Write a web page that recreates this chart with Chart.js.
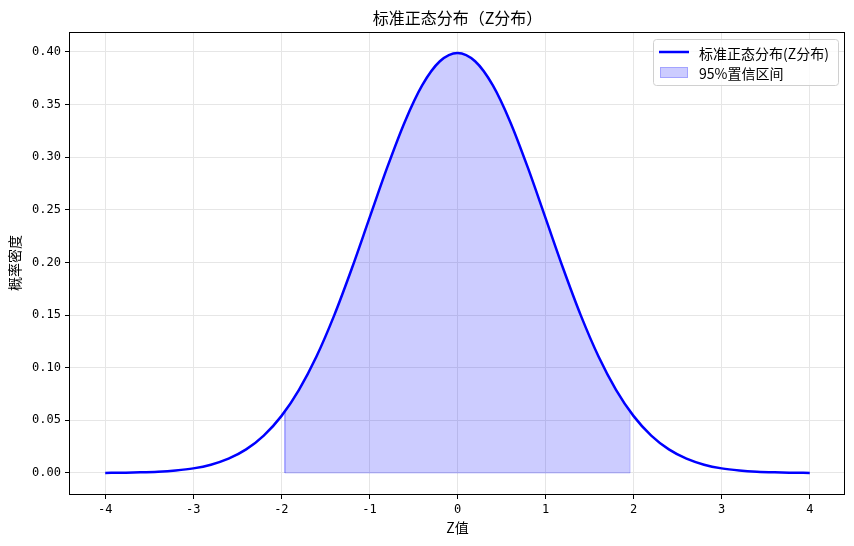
<!DOCTYPE html>
<html>
<head>
<meta charset="utf-8">
<script src="https://cdn.jsdelivr.net/npm/chart.js@4"></script>
<style>
  html, body { margin: 0; padding: 0; background: #fff; }
  #wrap { width: 854px; height: 546px; }
</style>
</head>
<body>
<div id="wrap"><canvas id="myChart" width="854" height="546"></canvas></div>
<script>
// z values and density
const zValues = [-4, -3.8, -3.6, -3.4, -3.2, -3, -2.8, -2.6, -2.4, -2.2, -2, -1.8, -1.6, -1.4, -1.2, -1, -0.8, -0.6, -0.4, -0.2,
  0, 0.2, 0.4, 0.6, 0.8, 1, 1.2, 1.4, 1.6, 1.8, 2, 2.2, 2.4, 2.6, 2.8, 3, 3.2, 3.4, 3.6, 3.8, 4];
const density = [0.0001, 0.0003, 0.0006, 0.0012, 0.0024, 0.0044, 0.0079, 0.0136, 0.0224, 0.0355, 0.0540, 0.0790, 0.1109, 0.1497, 0.1942, 0.2420, 0.2897, 0.3332, 0.3683, 0.3910,
  0.3989, 0.3910, 0.3683, 0.3332, 0.2897, 0.2420, 0.1942, 0.1497, 0.1109, 0.0790, 0.0540, 0.0355, 0.0224, 0.0136, 0.0079, 0.0044, 0.0024, 0.0012, 0.0006, 0.0003, 0.0001];
const ciBounds = [-1.96, 1.96];
const ciEdgeDensity = [0.0584, 0.0584];
const xTicks = [-4, -3, -2, -1, 0, 1, 2, 3, 4];
const yTicks = [0, 0.05, 0.10, 0.15, 0.20, 0.25, 0.30, 0.35, 0.40];
const labels = ['标准正态分布(Z分布)', '95%置信区间'];

const monoFont = "'DejaVu Sans Mono', 'Noto Sans CJK SC', monospace";
const cjkFont = "'Noto Sans CJK SC', 'DejaVu Sans', sans-serif";

let curve = zValues.map((z, i) => ({x: z, y: density[i]}));
let ciArea = [{x: ciBounds[0], y: ciEdgeDensity[0]}]
  .concat(curve.filter(p => p.x > ciBounds[0] && p.x < ciBounds[1]))
  .concat([{x: ciBounds[1], y: ciEdgeDensity[1]}]);
let ciEdges = [
  {x: ciBounds[0], y: ciEdgeDensity[0]}, {x: ciBounds[0], y: 0},
  {x: ciBounds[1], y: 0}, {x: ciBounds[1], y: ciEdgeDensity[1]}
];

const decorations = {
  id: 'decorations',
  afterDraw(chart) {
    const ctx = chart.ctx;
    const a = chart.chartArea;
    ctx.save();
    // spines
    ctx.strokeStyle = '#000';
    ctx.lineWidth = 1;
    ctx.strokeRect(Math.round(a.left) - 0.5, Math.round(a.top) + 0.5, Math.round(a.right - a.left), Math.round(a.bottom - a.top));

    // title and axis labels
    ctx.fillStyle = '#000';
    ctx.textAlign = 'center';
    ctx.textBaseline = 'middle';
    ctx.font = "16px " + cjkFont;
    ctx.fillText('标准正态分布（Z分布）', (a.left + a.right) / 2, 18);
    ctx.font = "14px " + cjkFont;
    ctx.fillText('Z值', (a.left + a.right) / 2, 528);
    ctx.save();
    ctx.translate(15, (a.top + a.bottom) / 2);
    ctx.rotate(-Math.PI / 2);
    ctx.fillText('概率密度', 0, 0);
    ctx.restore();

    // legend, upper right inside the axes
    const bx = 653.5, by = 39.5, bw = 185, bh = 46;
    ctx.fillStyle = 'rgba(255,255,255,0.8)';
    ctx.strokeStyle = '#d0d0d0';
    ctx.beginPath();
    ctx.roundRect(bx, by, bw, bh, 3);
    ctx.fill();
    ctx.stroke();

    ctx.strokeStyle = '#0000ff';
    ctx.lineWidth = 2.5;
    ctx.beginPath();
    ctx.moveTo(659, 52);
    ctx.lineTo(689, 52);
    ctx.stroke();

    ctx.fillStyle = 'rgba(0,0,255,0.2)';
    ctx.fillRect(660, 67, 28, 11);
    ctx.strokeStyle = 'rgba(0,0,255,0.2)';
    ctx.lineWidth = 1;
    ctx.strokeRect(660.5, 67.5, 27, 10);

    ctx.fillStyle = '#000';
    ctx.textAlign = 'left';
    ctx.font = "14px " + cjkFont;
    ctx.fillText(labels[0], 699, 54);
    ctx.fillText(labels[1], 699, 73.5);
    ctx.restore();
  }
};

const myChart = document.getElementById('myChart');
let normalChart = new Chart(myChart, {
  type: 'line',
  data: {
    datasets: [
      {
        label: labels[0],
        data: curve,
        borderColor: '#0000ff',
        borderWidth: 2.5,
        pointRadius: 0,
        fill: false,
        cubicInterpolationMode: 'monotone'
      },
      {
        label: labels[1],
        data: ciArea,
        borderColor: 'rgba(0,0,255,0.2)',
        backgroundColor: 'rgba(0,0,255,0.2)',
        borderWidth: 1,
        pointRadius: 0,
        fill: 'origin',
        cubicInterpolationMode: 'monotone'
      },
      {
        label: 'edges',
        data: ciEdges,
        borderColor: 'rgba(0,0,255,0.2)',
        borderWidth: 1,
        pointRadius: 0,
        fill: false,
        tension: 0
      }
    ]
  },
  options: {
    responsive: false,
    animation: false,
    events: [],
    layout: {padding: {top: 32, right: 9, left: 0, bottom: 0}},
    plugins: {
      legend: {display: false},
      title: {display: false},
      tooltip: {enabled: false}
    },
    scales: {
      x: {
        type: 'linear',
        min: -4.4,
        max: 4.4,
        afterBuildTicks: scale => { scale.ticks = xTicks.map(v => ({value: v})); },
        afterFit: scale => { scale.height = 52; },
        border: {display: false},
        grid: {color: '#e6e6e6', lineWidth: 1, tickColor: '#000', tickLength: 5},
        ticks: {
          color: '#000',
          font: {family: monoFont, size: 12},
          padding: 4,
          maxRotation: 0,
          callback: v => String(v)
        }
      },
      y: {
        type: 'linear',
        min: -0.01995,
        max: 0.4188,
        afterBuildTicks: scale => { scale.ticks = yTicks.map(v => ({value: v})); },
        afterFit: scale => { scale.width = 70; },
        border: {display: false},
        grid: {color: '#e6e6e6', lineWidth: 1, tickColor: '#000', tickLength: 5},
        ticks: {
          color: '#000',
          font: {family: monoFont, size: 12},
          padding: 4,
          callback: v => Number(v).toFixed(2)
        }
      }
    }
  },
  plugins: [decorations]
});
</script>
</body>
</html>
